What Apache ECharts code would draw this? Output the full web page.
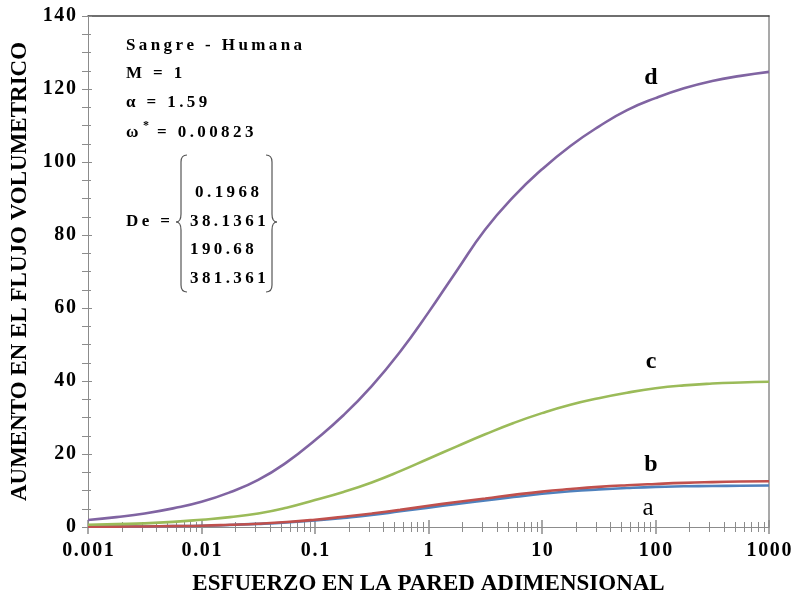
<!DOCTYPE html>
<html>
<head>
<meta charset="utf-8">
<script src="https://cdn.jsdelivr.net/npm/echarts@6/dist/echarts.min.js"></script>
<style>
  html, body { margin: 0; padding: 0; background: #fff; }
  #chart { width: 795px; height: 598px; }
</style>
</head>
<body>
<div id="chart"></div>
<script>
// Dimensionless wall stress (quarter-decade samples) and the flow-rate increase for each Deborah number
const stress = [0.001, 0.00178, 0.00316, 0.00562, 0.01, 0.0178, 0.0316, 0.0562, 0.1, 0.178, 0.316, 0.562,
  1, 1.78, 3.16, 5.62, 10, 17.8, 31.6, 56.2, 100, 178, 316, 562, 1000];
const flowA = [0.05, 0.1, 0.15, 0.25, 0.35, 0.55, 0.85, 1.25, 1.8, 2.5, 3.3, 4.3,
  5.3, 6.3, 7.3, 8.2, 9.1, 9.8, 10.3, 10.7, 11.0, 11.15, 11.25, 11.3, 11.35];
const flowB = [0.05, 0.1, 0.15, 0.25, 0.35, 0.6, 0.9, 1.35, 2.0, 2.8, 3.7, 4.7,
  5.8, 6.85, 7.8, 8.8, 9.7, 10.4, 11.0, 11.45, 11.8, 12.1, 12.3, 12.45, 12.55];
const flowC = [0.6, 0.8, 1.0, 1.4, 2.0, 2.7, 3.7, 5.3, 7.4, 9.6, 12.2, 15.3,
  18.7, 22.1, 25.4, 28.5, 31.2, 33.5, 35.3, 36.8, 38.0, 38.8, 39.3, 39.6, 39.8];
const flowD = [1.9, 2.7, 3.7, 5.1, 6.9, 9.5, 12.9, 17.7, 23.8, 30.6, 38.6, 48.0,
  58.8, 70.3, 81.5, 90.5, 98.0, 104.4, 109.7, 114.2, 117.5, 120.2, 122.2, 123.6, 124.7];

// Curve labels
const curveNames = ['a', 'b', 'c', 'd'];
// Parameter block
const fluid = 'Sangre - Humana';
const paramM = 'M = 1';
const paramAlpha = 'α = 1.59';
const paramOmega = '0.00823';
const deborah = ['0.1968', '38.1361', '190.68', '381.361'];

// Minor tick positions (2..9 in every decade), as decade exponents for the tick-only axes
const minorExp = [];
for (let e = -3; e < 3; e++) {
  for (let m = 2; m < 10; m++) minorExp.push(e + Math.log10(m));
}

const pairs = ys => stress.map((x, i) => [x, ys[i]]);
const spaced = s => s.split('').join('\u2009');
const tight = s => s.split('').join('\u200A');
const serif = '"Liberation Serif", "DejaVu Serif", serif';
const axisGray = '#8c8c8c';

const chart = echarts.init(document.getElementById('chart'));

const lineSeries = (name, data, color) => ({
  name, type: 'line', data: pairs(data), smooth: true, showSymbol: false,
  lineStyle: { color, width: 2.6 }, xAxisIndex: 0, yAxisIndex: 0, z: 3
});

const labelText = (text, x, y, bold) => ({
  type: 'text', x, y,
  style: { text, font: (bold ? 'bold 24px ' : '25px ') + serif, fill: '#000', align: 'center', verticalAlign: 'middle' }
});
const blockText = (text, x, y, align) => ({
  type: 'text', x, y,
  style: { text: spaced(text), font: 'bold 17px ' + serif, fill: '#000', align: align || 'left', verticalAlign: 'middle' }
});

// Curly brace drawn from straight strokes and quadratic hooks; dir = 1 opens right, -1 opens left
const brace = (x, top, mid, bottom, dir) => {
  const st = { stroke: '#555', lineWidth: 1.2, fill: 'none' };
  const tip = x - dir * 5, end = x + dir * 6;
  return {
    type: 'group',
    children: [
      { type: 'bezierCurve', shape: { x1: end, y1: top, cpx1: x, cpy1: top, x2: x, y2: top + 7 }, style: st },
      { type: 'line', shape: { x1: x, y1: top + 7, x2: x, y2: mid - 8 }, style: st },
      { type: 'bezierCurve', shape: { x1: x, y1: mid - 8, cpx1: x, cpy1: mid, x2: tip, y2: mid }, style: st },
      { type: 'bezierCurve', shape: { x1: tip, y1: mid, cpx1: x, cpy1: mid, x2: x, y2: mid + 8 }, style: st },
      { type: 'line', shape: { x1: x, y1: mid + 8, x2: x, y2: bottom - 7 }, style: st },
      { type: 'bezierCurve', shape: { x1: x, y1: bottom - 7, cpx1: x, cpy1: bottom, x2: end, y2: bottom }, style: st }
    ]
  };
};

// Tick-only axis over the decade exponents, used for the minor ticks of the log axis
const minorAxis = inside => ({
  type: 'value', min: -3, max: 3, position: 'bottom',
  axisLine: { show: false, onZero: false },
  axisTick: { show: true, inside, length: 5, customValues: minorExp, lineStyle: { color: axisGray } },
  axisLabel: { show: false }, splitLine: { show: false }
});

chart.setOption({
  animation: false,
  backgroundColor: '#fff',
  grid: { left: 88, right: 26, top: 16, bottom: 71, outerBoundsMode: 'none', containLabel: false },
  xAxis: [
    {
      type: 'log', logBase: 10, min: 0.001, max: 1000, position: 'bottom',
      name: 'ESFUERZO EN LA PARED ADIMENSIONAL', nameLocation: 'middle', nameGap: 46,
      nameTextStyle: { fontFamily: serif, fontWeight: 'bold', fontSize: 23, color: '#000' },
      axisLine: { show: true, onZero: false, lineStyle: { color: axisGray, width: 1 } },
      axisTick: { show: true, inside: false, length: 7, lineStyle: { color: axisGray, width: 1.5 } },
      minorTick: { show: false },
      axisLabel: {
        fontFamily: serif, fontWeight: 'bold', fontSize: 20, color: '#000', margin: 14,
        formatter: v => tight(String(parseFloat(Number(v).toPrecision(3))))
      },
      splitLine: { show: false }
    },
    {
      type: 'log', logBase: 10, min: 0.001, max: 1000, position: 'bottom',
      axisLine: { show: false, onZero: false },
      axisTick: { show: true, inside: true, length: 7, lineStyle: { color: axisGray, width: 1.5 } },
      axisLabel: { show: false }, splitLine: { show: false }
    },
    {
      type: 'log', logBase: 10, min: 0.001, max: 1000, position: 'top',
      axisLine: { show: true, onZero: false, lineStyle: { color: '#404040', width: 1.5 } },
      axisTick: { show: false }, axisLabel: { show: false }, splitLine: { show: false }
    },
    minorAxis(false),
    minorAxis(true)
  ],
  yAxis: [
    {
      type: 'value', min: 0, max: 140, interval: 20, position: 'left',
      name: 'AUMENTO EN EL FLUJO VOLUMETRICO', nameLocation: 'middle', nameGap: 45,
      nameTextStyle: { fontFamily: serif, fontWeight: 'bold', fontSize: 23, color: '#000' },
      axisLine: { show: true, onZero: false, lineStyle: { color: axisGray, width: 1 } },
      axisTick: { show: true, inside: false, length: 6, lineStyle: { color: axisGray } },
      minorTick: { show: true, splitNumber: 4, length: 6, lineStyle: { color: axisGray } },
      axisLabel: {
        fontFamily: serif, fontWeight: 'bold', fontSize: 20, color: '#000', margin: 12,
        formatter: v => tight(String(v))
      },
      splitLine: { show: false }
    },
    {
      type: 'value', min: 0, max: 140, interval: 20, position: 'left',
      axisLine: { show: false, onZero: false },
      axisTick: { show: true, inside: true, length: 4, lineStyle: { color: axisGray } },
      minorTick: { show: true, splitNumber: 4, length: 3, lineStyle: { color: axisGray } },
      axisLabel: { show: false }, splitLine: { show: false }
    },
    {
      type: 'value', min: 0, max: 140, interval: 20, position: 'right',
      axisLine: { show: true, onZero: false, lineStyle: { color: axisGray, width: 1.5 } },
      axisTick: { show: false }, axisLabel: { show: false }, splitLine: { show: false }
    }
  ],
  series: [
    lineSeries(curveNames[0], flowA, '#4f81bd'),
    lineSeries(curveNames[1], flowB, '#c0504d'),
    lineSeries(curveNames[2], flowC, '#9bbb59'),
    lineSeries(curveNames[3], flowD, '#8064a2')
  ],
  graphic: [
    labelText(curveNames[3], 651, 78, true),
    labelText(curveNames[2], 651, 362, true),
    labelText(curveNames[1], 651, 465, true),
    labelText(curveNames[0], 648, 508, false),
    blockText(fluid, 126, 46),
    blockText(paramM, 126, 74),
    blockText(paramAlpha, 126, 103),
    blockText('ω', 126, 133),
    { type: 'text', x: 143, y: 126, style: { text: '*', font: 'bold 12px ' + serif, fill: '#000', verticalAlign: 'middle' } },
    blockText('= ' + paramOmega, 157, 133),
    blockText('De =', 126, 222),
    blockText(deborah[0], 227, 193, 'center'),
    blockText(deborah[1], 190, 222),
    blockText(deborah[2], 190, 250),
    blockText(deborah[3], 190, 279),
    brace(181, 155, 222, 292, 1),
    brace(272, 155, 222, 292, -1)
  ]
});
</script>
</body>
</html>
